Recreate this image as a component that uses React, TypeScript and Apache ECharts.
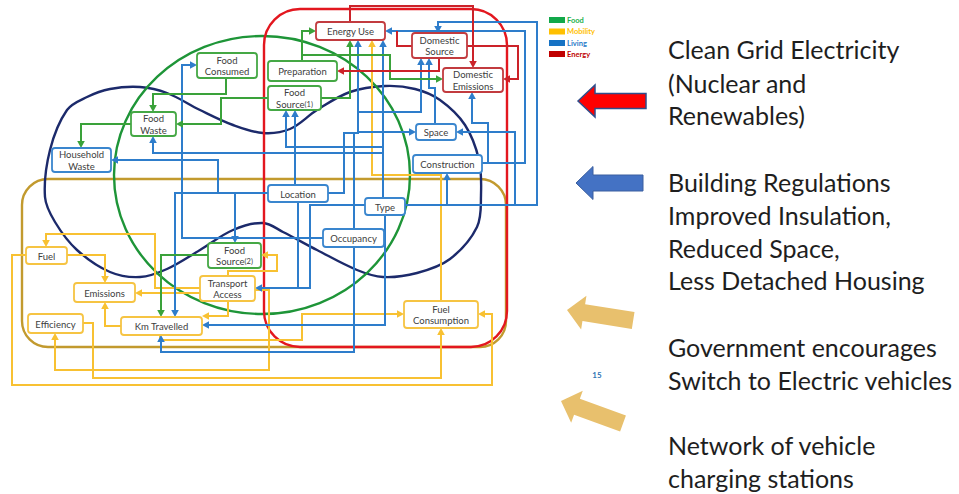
import React, { useEffect, useRef } from 'react';
import * as echarts from 'echarts';

const W = 959;
const H = 494;

// ---- categories / legend ----
const legendNames = ['Food', 'Mobility', 'Living', 'Energy'];
const legendSwatch: Record<string, string> = { Food: '#12A84A', Mobility: '#FFC000', Living: '#1672C4', Energy: '#C00000' };
const legendText: Record<string, string> = { Food: '#22B14C', Mobility: '#FFC000', Living: '#2A7BC8', Energy: '#C00000' };
const lineColors: Record<string, string> = { Food: '#3AA23A', Mobility: '#F8C132', Living: '#2E7DCB', Energy: '#CC2229' };
const boxColors: Record<string, string> = { Food: '#45A845', Mobility: '#F6C443', Living: '#3A86CE', Energy: '#C23B3F' };

// ---- nodes: [label, category, x1, y1, x2, y2] ----
const foodNodes: [string, string, number, number, number, number][] = [
  ['Food\nConsumed', 'Food', 197, 53, 257, 78],
  ['Preparation', 'Food', 268, 61, 337, 81],
  ['Food\nSource{s|(1)}', 'Food', 268, 86, 321, 110],
  ['Food\nWaste', 'Food', 131, 112, 176, 136],
  ['Food\nSource{s|(2)}', 'Food', 208, 243, 261, 268],
];
const livingNodes: [string, string, number, number, number, number][] = [
  ['Household\nWaste', 'Living', 52, 148, 111, 172],
  ['Location', 'Living', 268, 185, 328, 202],
  ['Type', 'Living', 365, 198, 405, 215],
  ['Occupancy', 'Living', 323, 229, 384, 247],
  ['Space', 'Living', 416, 124, 456, 140],
  ['Construction', 'Living', 413, 155, 482, 173],
];
const energyNodes: [string, string, number, number, number, number][] = [
  ['Energy Use', 'Energy', 316, 22, 385, 40],
  ['Domestic\nSource', 'Energy', 412, 33, 467, 58],
  ['Domestic\nEmissions', 'Energy', 443, 68, 503, 92],
];
const mobilityNodes: [string, string, number, number, number, number][] = [
  ['Fuel', 'Mobility', 26, 247, 67, 264],
  ['Emissions', 'Mobility', 74, 283, 135, 302],
  ['Transport\nAccess', 'Mobility', 200, 276, 255, 301],
  ['Efficiency', 'Mobility', 28, 314, 83, 333],
  ['Km Travelled', 'Mobility', 121, 317, 202, 335],
  ['Fuel\nConsumption', 'Mobility', 404, 301, 478, 328],
];
const nodes = [...foodNodes, ...livingNodes, ...energyNodes, ...mobilityNodes];

// ---- links: category, arrow, points ----
type Link = { c: string; a: boolean; p: number[][] };
const foodLinks: Link[] = [
  { c: 'Food', a: true, p: [[226, 78], [226, 94], [153, 94], [153, 112]] },
  { c: 'Food', a: true, p: [[268, 98], [221, 98], [221, 124], [176, 124]] },
  { c: 'Food', a: true, p: [[131, 124], [81, 124], [81, 148]] },
  { c: 'Food', a: true, p: [[302, 61], [302, 31], [316, 31]] },
  { c: 'Food', a: true, p: [[302, 55], [390, 55], [390, 79], [443, 79]] },
  { c: 'Food', a: true, p: [[321, 98], [350, 98], [350, 40]] },
  { c: 'Food', a: true, p: [[208, 255], [161, 255], [161, 317]] },
];
const energyLinks: Link[] = [
  { c: 'Energy', a: true, p: [[350, 22], [350, 6], [473, 6], [473, 68]] },
  { c: 'Energy', a: false, p: [[412, 46], [397, 46], [397, 31]] },
  { c: 'Energy', a: true, p: [[439, 58], [439, 71], [337, 71]] },
  { c: 'Energy', a: true, p: [[467, 46], [518, 46], [518, 79], [503, 79]] },
];
const livingLinks: Link[] = [
  { c: 'Living', a: true, p: [[482, 163], [525, 163], [525, 31], [385, 31]] },
  { c: 'Living', a: true, p: [[488, 163], [488, 123], [472, 123], [472, 92]] },
  { c: 'Living', a: true, p: [[405, 205], [537, 205], [537, 22], [438, 22], [438, 33]] },
  { c: 'Living', a: true, p: [[515, 205], [515, 132], [456, 132]] },
  { c: 'Living', a: true, p: [[447, 205], [447, 173]] },
  { c: 'Living', a: true, p: [[435, 124], [435, 88], [429, 88], [429, 58]] },
  { c: 'Living', a: true, p: [[357, 112], [421, 112], [421, 58]] },
  { c: 'Living', a: true, p: [[383, 147], [286, 147], [286, 110]] },
  { c: 'Living', a: true, p: [[383, 153], [153, 153], [153, 136]] },
  { c: 'Living', a: true, p: [[383, 198], [383, 40]] },
  { c: 'Living', a: true, p: [[295, 185], [295, 110]] },
  { c: 'Living', a: true, p: [[328, 193], [344, 193], [344, 133], [358, 133], [358, 40]] },
  { c: 'Living', a: true, p: [[358, 132], [416, 132]] },
  { c: 'Living', a: false, p: [[354, 229], [354, 133]] },
  { c: 'Living', a: true, p: [[354, 247], [354, 352], [161, 352], [161, 335]] },
  { c: 'Living', a: true, p: [[385, 215], [385, 325], [202, 325]] },
  { c: 'Living', a: true, p: [[365, 205], [310, 205], [310, 288], [255, 288]] },
  { c: 'Living', a: false, p: [[298, 202], [298, 288]] },
  { c: 'Living', a: true, p: [[268, 193], [175, 193], [175, 317]] },
  { c: 'Living', a: true, p: [[235, 193], [235, 243]] },
  { c: 'Living', a: true, p: [[218, 193], [218, 160], [111, 160]] },
  { c: 'Living', a: true, p: [[323, 238], [182, 238], [182, 65], [197, 65]] },
];
const mobilityLinks: Link[] = [
  { c: 'Mobility', a: true, p: [[441, 301], [441, 175], [372, 175], [372, 40]] },
  { c: 'Mobility', a: true, p: [[200, 288], [155, 288], [155, 234], [46, 234], [46, 247]] },
  { c: 'Mobility', a: true, p: [[200, 293], [135, 293]] },
  { c: 'Mobility', a: true, p: [[67, 255], [105, 255], [105, 283]] },
  { c: 'Mobility', a: true, p: [[121, 326], [105, 326], [105, 302]] },
  { c: 'Mobility', a: true, p: [[228, 301], [228, 316], [202, 316]] },
  { c: 'Mobility', a: true, p: [[228, 276], [228, 271], [277, 271], [277, 255], [261, 255]] },
  { c: 'Mobility', a: true, p: [[83, 323], [93, 323], [93, 378], [441, 378], [441, 328]] },
  { c: 'Mobility', a: true, p: [[26, 255], [12, 255], [12, 385], [492, 385], [492, 314], [478, 314]] },
  { c: 'Mobility', a: true, p: [[255, 290], [269, 290], [269, 370], [55, 370], [55, 333]] },
  { c: 'Mobility', a: true, p: [[160, 335], [160, 340], [302, 340], [302, 314], [404, 314]] },
];
const links = [...mobilityLinks, ...livingLinks, ...foodLinks, ...energyLinks];

// ---- domain regions ----
const mobilityRegion = [22, 179, 506, 347];
const energyRegion = [264, 9, 507, 347];
const foodRegion = [262, 175, 148, 139];
const livingRegionTop = [[45, 197], [50, 150], [67, 110], [87, 97], [110, 89], [140, 87], [167, 93], [200, 110], [233, 125], [263, 133], [290, 129], [317, 110], [350, 92], [385, 86], [415, 89], [440, 100], [465, 125], [479, 160], [481, 195]];
const livingRegionBottom = [[477, 227], [450, 259], [417, 273], [383, 277], [357, 270], [317, 250], [283, 232], [263, 223], [233, 230], [200, 250], [167, 269], [140, 277], [110, 272], [77, 250], [55, 222]];

// ---- right-side text ----
const policyLines: [string, number][] = [
  ['Clean Grid Electricity', 49], ['(Nuclear and', 83], ['Renewables)', 115],
  ['Building Regulations', 182], ['Improved Insulation,', 215], ['Reduced Space,', 248], ['Less Detached Housing', 280],
  ['Government encourages', 347], ['Switch to Electric vehicles', 380],
  ['Network of vehicle', 445], ['charging stations', 478],
];

function arrowPts(tx: number, ty: number, len: number, head: number, hw: number, sw: number, deg: number) {
  const a = (deg * Math.PI) / 180;
  const ux = Math.cos(a), uy = Math.sin(a);
  const nx = -uy, ny = ux;
  const P = (d: number, o: number) => [tx + ux * d + nx * o, ty + uy * d + ny * o];
  return [P(0, 0), P(head, -hw), P(head, -sw), P(len, -sw), P(len, sw), P(head, sw), P(head, hw)];
}

export default function App() {
  const ref = useRef<HTMLDivElement>(null);
  useEffect(() => {
    document.body.style.margin = '0';
    const chart = echarts.init(ref.current!, null, { renderer: 'svg' });

    const regionSeries = {
      type: 'custom',
      z: 1,
      clip: false,
      silent: true,
      data: [[0, 0], [0, 0], [0, 0], [0, 0]],
      renderItem: (params: any, api: any) => {
        const i = params.dataIndex;
        if (i === 0 || i === 3) {
          const r = i === 0 ? mobilityRegion : energyRegion;
          const [x1, y1] = api.coord([r[0], r[1]]);
          const [x2, y2] = api.coord([r[2], r[3]]);
          return {
            type: 'rect',
            shape: { x: x1, y: y1, width: x2 - x1, height: y2 - y1, r: i === 0 ? 26 : 36 },
            style: { fill: 'transparent', stroke: i === 0 ? '#C29A2E' : '#E3171F', lineWidth: 2.4 },
          };
        }
        if (i === 2) {
          const [cx, cy] = api.coord([foodRegion[0], foodRegion[1]]);
          const [ex, ey] = api.coord([foodRegion[0] + foodRegion[2], foodRegion[1] + foodRegion[3]]);
          return {
            type: 'ellipse',
            shape: { cx, cy, rx: ex - cx, ry: ey - cy },
            style: { fill: 'transparent', stroke: '#1E9538', lineWidth: 2.4 },
          };
        }
        const pts = [...livingRegionTop, ...livingRegionBottom].map((p) => api.coord(p));
        return {
          type: 'polygon',
          shape: { points: pts, smooth: 0.35 },
          style: { fill: 'transparent', stroke: '#1C2A6B', lineWidth: 2.4 },
        };
      },
    };

    const linkSeries = {
      type: 'custom',
      z: 2,
      clip: false,
      silent: true,
      data: links.map((l) => l.p[0]),
      renderItem: (params: any, api: any) => {
        const l = links[params.dataIndex];
        const color = lineColors[l.c];
        const pts = l.p.map((p) => api.coord(p));
        const children: any[] = [];
        let linePts = pts;
        if (l.a) {
          const n = pts.length;
          const [x2, y2] = pts[n - 1];
          const [x1, y1] = pts[n - 2];
          const dx = x2 - x1, dy = y2 - y1;
          const len = Math.hypot(dx, dy) || 1;
          const ux = dx / len, uy = dy / len;
          const L = 7, hw = 3.8;
          const bx = x2 - ux * L, by = y2 - uy * L;
          linePts = pts.slice(0, n - 1).concat([[x2 - ux * (L - 1), y2 - uy * (L - 1)]]);
          children.push({
            type: 'polygon',
            shape: { points: [[x2, y2], [bx - uy * hw, by + ux * hw], [bx + uy * hw, by - ux * hw]] },
            style: { fill: color },
          });
        }
        children.unshift({
          type: 'polyline',
          shape: { points: linePts },
          style: { stroke: color, lineWidth: 2, fill: null },
        });
        return { type: 'group', children };
      },
    };

    const nodeSeries = {
      type: 'custom',
      z: 3,
      clip: false,
      silent: true,
      data: nodes.map((n) => [n[2], n[3]]),
      renderItem: (params: any, api: any) => {
        const n = nodes[params.dataIndex];
        const [x1, y1] = api.coord([n[2], n[3]]);
        const [x2, y2] = api.coord([n[4], n[5]]);
        const color = boxColors[n[1]];
        return {
          type: 'group',
          children: [
            {
              type: 'rect',
              shape: { x: x1, y: y1, width: x2 - x1, height: y2 - y1, r: 3 },
              style: { fill: '#ffffff', stroke: color, lineWidth: 1.8 },
            },
            {
              type: 'text',
              x: (x1 + x2) / 2,
              y: (y1 + y2) / 2 + 0.5,
              style: {
                text: n[0],
                align: 'center',
                verticalAlign: 'middle',
                fontSize: 9.5,
                fontFamily: 'Lato',
                fill: '#404040',
                lineHeight: 11.5,
                rich: { s: { fontSize: 7.5, fontFamily: 'Lato', fill: '#404040', lineHeight: 11.5 } },
              },
            },
          ],
        };
      },
    };

    const graphics: any[] = [];
    legendNames.forEach((name, i) => {
      const y = [20, 31.5, 43, 54][i];
      graphics.push({ type: 'rect', shape: { x: 549, y: y - 3, width: 16, height: 6 }, style: { fill: legendSwatch[name] } });
      graphics.push({
        type: 'text', x: 567, y,
        style: { text: name, fontSize: 7.5, fontWeight: 'bold', fontFamily: 'Lato', fill: legendText[name], verticalAlign: 'middle' },
      });
    });
    policyLines.forEach(([t, y]) => {
      graphics.push({
        type: 'text', x: 668, y,
        style: { text: t, fontSize: 25, fontFamily: 'Lato', fill: '#1E1E1E', verticalAlign: 'middle' },
      });
    });
    graphics.push({
      type: 'polygon', shape: { points: arrowPts(578, 101, 68, 17, 16, 7.5, 0) },
      style: { fill: '#FF0000', stroke: '#2F4E8C', lineWidth: 1.5 },
    });
    graphics.push({
      type: 'polygon', shape: { points: arrowPts(576, 183, 67, 17, 16.5, 8, 0) },
      style: { fill: '#4472C4', stroke: '#3A5F9F', lineWidth: 1 },
    });
    graphics.push({
      type: 'polygon', shape: { points: arrowPts(567, 310, 67, 17, 17, 8.5, 9) },
      style: { fill: '#E8C06D' },
    });
    graphics.push({
      type: 'polygon', shape: { points: arrowPts(561, 401, 66, 17, 17, 8.5, 20) },
      style: { fill: '#E8C06D' },
    });
    graphics.push({
      type: 'text', x: 597, y: 375,
      style: { text: '15', fontSize: 8, fontWeight: 'bold', fontFamily: 'Lato', fill: '#2F75B5', align: 'center', verticalAlign: 'middle' },
    });

    chart.setOption({
      animation: false,
      backgroundColor: '#ffffff',
      grid: { left: 0, top: 0, width: W, height: H, containLabel: false },
      xAxis: { type: 'value', min: 0, max: W, show: false },
      yAxis: { type: 'value', min: 0, max: H, inverse: true, show: false },
      series: [regionSeries, linkSeries, nodeSeries],
      graphic: graphics,
    });
    return () => chart.dispose();
  }, []);
  return <div ref={ref} style={{ width: W, height: H }} />;
}
